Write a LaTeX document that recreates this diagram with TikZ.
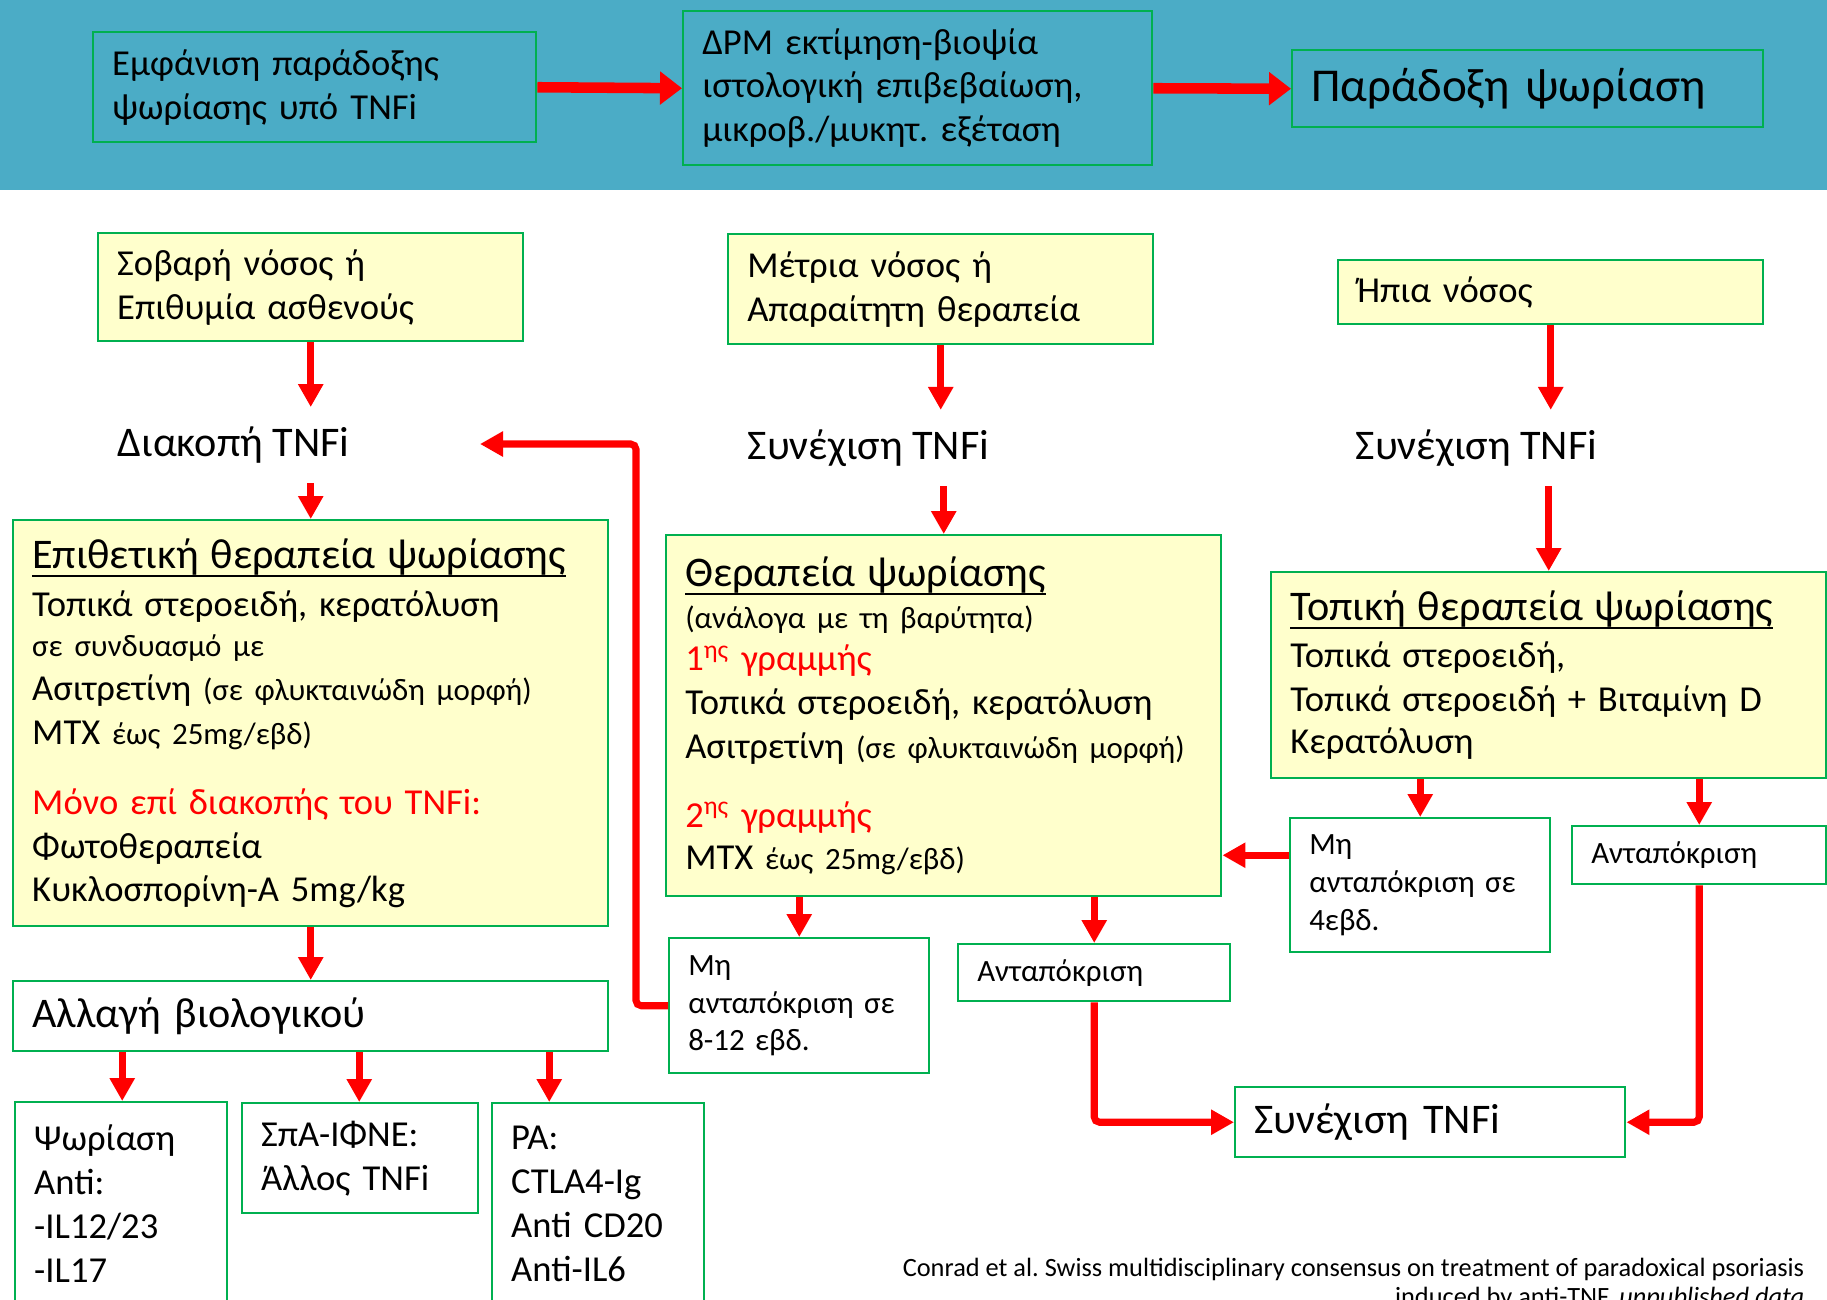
\documentclass[tikz,border=0pt]{standalone}
\usepackage{fontspec}
\setmainfont{Carlito}
\usetikzlibrary{arrows.meta,calc}
\definecolor{psBand}{HTML}{4BACC6}
\definecolor{psGreen}{HTML}{00B050}
\definecolor{psPale}{HTML}{FFFFCC}
\definecolor{psRed}{HTML}{FF0000}
\frenchspacing
\newsavebox{\ttlbox}
\newcommand{\uln}[1]{\sbox{\ttlbox}{#1}\leavevmode\rlap{\rule[-2.35pt]{\wd\ttlbox}{0.55pt}}\usebox{\ttlbox}}
\newcommand{\fsHead}{\fontsize{10.4}{12.5}\selectfont}
\newcommand{\fsBig}{\fontsize{13.4}{16}\selectfont}
\newcommand{\fsTitle}{\fontsize{12}{12.5}\selectfont}
\newcommand{\fsBody}{\fontsize{10.4}{12.5}\selectfont}
\newcommand{\fsSmall}{\fontsize{8.8}{12.5}\selectfont}
\newcommand{\fsLabel}{\fontsize{12}{14}\selectfont}
\newcommand{\fsNote}{\fontsize{8.8}{10.8}\selectfont}
\newcommand{\fsCite}{\fontsize{7.5}{8.4}\selectfont}
\tikzset{
  box/.style       ={draw=psGreen,line width=0.7pt,anchor=north west,align=left,
                     inner xsep=0.19cm,inner ysep=0pt},
  wh/.style 2 args ={minimum width=#1*0.01cm,minimum height=#2*0.01cm,
                     text width=#1*0.01cm-0.38cm},
  hdrbox/.style    ={box,font=\fsHead},
  pale/.style      ={box,fill=psPale},
  plain/.style     ={box,fill=white},
  lbl/.style       ={anchor=west,inner xsep=0pt,inner ysep=0.19cm,font=\fsLabel},
  flow/.style      ={-{Triangle[length=2.3mm,width=2.4mm]},psRed,line width=2pt,
                     rounded corners=1.5pt},
  hflow/.style     ={-{Triangle[length=2.2mm,width=3.2mm]},psRed,line width=3pt},
}
\begin{document}
\begin{tikzpicture}[x=0.01cm,y=-0.01cm]
\useasboundingbox (0,0) rectangle (1827,1299);
\clip (0,0) rectangle (1827,1299);
%% header band
\fill[psBand] (0,0) rectangle (1827,190);
\node[hdrbox,wh={443}{110}] (appear) at (92,31) {Εμφάνιση παράδοξης\\ψωρίασης υπό TNFi};
\node[hdrbox,wh={469}{154}] (biopsy) at (682,10)
  {ΔΡΜ εκτίμηση-βιοψία\\ιστολογική επιβεβαίωση,\\μικροβ./μυκητ. εξέταση};
\node[hdrbox,wh={471}{77},font=\fsBig] (paradox) at (1291,49) {Παράδοξη ψωρίαση};
\draw[hflow] (appear.east) -- (biopsy.west);
\draw[hflow] (biopsy.east) -- (paradox.west);

%% severity
\node[pale,font=\fsHead,wh={425}{108}] (severe) at (97,232) {Σοβαρή νόσος ή\\Επιθυμία ασθενούς};
\node[pale,font=\fsHead,wh={425}{110}] (moderate) at (727,233) {Μέτρια νόσος ή\\Απαραίτητη θεραπεία};
\node[pale,font=\fsHead,wh={425}{64}] (mild) at (1337,259) {Ήπια νόσος};
\node[lbl] (stopL) at (117,445) {Διακοπή TNFi};
\node[lbl] (keepM) at (747,448) {Συνέχιση TNFi};
\node[lbl] (keepR) at (1355,448) {Συνέχιση TNFi};

%% treatment boxes
\node[pale,wh={595}{406}] (aggr) at (12,519)
  {\fsTitle\uln{Επιθετική θεραπεία ψωρίασης}\\[1pt]
   \fsBody Τοπικά στεροειδή, κερατόλυση\\[-1pt]
   \fsSmall σε συνδυασμό με\\
   \fsBody Ασιτρετίνη {\fsSmall (σε φλυκταινώδη μορφή)}\\
   MTX {\fsSmall έως 25mg/εβδ)}\\[7.5pt]
   \textcolor{psRed}{Μόνο επί διακοπής του TNFi:}\\
   Φωτοθεραπεία\\
   Κυκλοσπορίνη-Α 5mg/kg};
\node[pale,wh={555}{361}] (therM) at (665,534)
  {\fsTitle\uln{Θεραπεία ψωρίασης}\\[-0.5pt]
   \fsSmall (ανάλογα με τη βαρύτητα)\\[-0.5pt]
   \fsBody\textcolor{psRed}{1\textsuperscript{ης} γραμμής}\\
   Τοπικά στεροειδή, κερατόλυση\\
   Ασιτρετίνη {\fsSmall (σε φλυκταινώδη μορφή)}\\[7pt]
   \textcolor{psRed}{2\textsuperscript{ης} γραμμής}\\
   MTX {\fsSmall έως 25mg/εβδ)}};
\node[pale,wh={555}{206}] (topR) at (1270,571)
  {\fsTitle\uln{Τοπική θεραπεία ψωρίασης}\\[1pt]
   \fsBody Τοπικά στεροειδή,\\
   Τοπικά στεροειδή + Βιταμίνη D\\
   Κερατόλυση};

\draw[flow] (severe.south) -- (severe.south |- stopL.north);
\draw[flow] (severe.south |- stopL.south) -- (aggr.north);
\draw[flow] (moderate.south) -- (moderate.south |- keepM.north);
\draw[flow] (therM.north |- keepM.south) -- (therM.north);
\draw[flow] (mild.south) -- (mild.south |- keepR.north);
\draw[flow] (topR.north |- keepR.south) -- (topR.north);

%% second line of biologics
\node[plain,wh={595}{70},font=\fsLabel] (switch) at (12,980) {Αλλαγή βιολογικού};
\node[plain,wh={212}{202},font=\fsBody] (bioPso) at (14,1101) {Ψωρίαση\\Anti:\\-IL12/23\\-IL17};
\node[plain,wh={236}{110},font=\fsBody] (bioSpa) at (241,1102) {ΣπΑ-ΙΦΝΕ:\\Άλλος TNFi};
\node[plain,wh={212}{202},font=\fsBody] (bioRA) at (491,1102) {ΡΑ:\\CTLA4-Ig\\Anti CD20\\Anti-IL6};
\draw[flow] (aggr.south) -- (switch.north);
\foreach \b/\s in {bioPso/1,bioSpa/-1,bioRA/-49}
  \draw[flow] ($(\b.north |- switch.south)+(\s,0)$) -- ($(\b.north)+(\s,0)$);

%% responses
\node[plain,wh={260}{135},font=\fsNote] (noresp8) at (668,937) {Μη\\ανταπόκριση σε\\8-12 εβδ.};
\node[plain,wh={272}{57},font=\fsNote] (respM) at (957,943) {Ανταπόκριση};
\node[plain,wh={260}{134},font=\fsNote] (noresp4) at (1289,817) {Μη\\ανταπόκριση σε\\4εβδ.};
\node[plain,wh={254}{58},font=\fsNote] (respR) at (1571,825) {Ανταπόκριση};
\node[plain,wh={390}{70},font=\fsLabel] (keepB) at (1234,1086) {Συνέχιση TNFi};
\coordinate (backtip) at (480,444);

\draw[flow] (therM.south -| noresp8.north) -- (noresp8.north);
\draw[flow] (therM.south -| respM.north) -- (respM.north);
\draw[flow] (topR.south -| noresp4.north) -- (noresp4.north);
\draw[flow] (topR.south -| respR.north) -- (respR.north);
\draw[flow] (noresp8.west) -- ++(-32,0) |- (backtip);
\draw[flow] ($(noresp4.west)+(0,-30)$) -- ($(therM.east |- noresp4.west)+(0,-30)$);
\draw[flow] (respM.south) |- (keepB.west);
\draw[flow] (respR.south) |- (keepB.east);

\node[anchor=north east,align=right,inner sep=0pt,font=\fsCite] (cite) at (1805,1257)
  {Conrad et al. Swiss multidisciplinary consensus on treatment of paradoxical psoriasis\\
   induced by anti-TNF, \textit{unpublished data}};
\end{tikzpicture}
\end{document}
